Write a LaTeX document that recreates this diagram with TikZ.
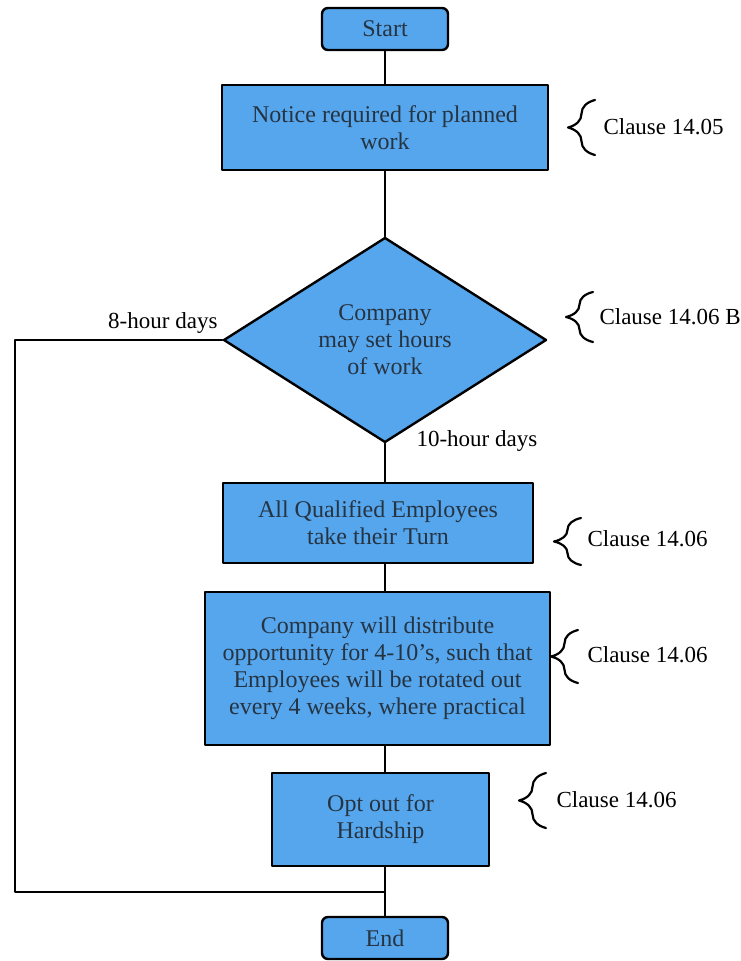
\documentclass[tikz,border=0pt]{standalone}
\usepackage{fontspec}
\setmainfont{Liberation Serif}
\usetikzlibrary{shapes.geometric,decorations.pathreplacing}
\definecolor{boxblue}{RGB}{86,166,238}
\definecolor{boxtext}{RGB}{38,52,66}
\begin{document}
\begin{tikzpicture}[x=1pt,y=-1pt,line join=round,line cap=round,line width=2.4pt]
			\tikzset{stepbox/.style={draw,fill=boxblue,text=boxtext,align=center,inner sep=0pt,font=\fontsize{24}{27}\selectfont},
				termbox/.style={stepbox,rounded corners=6pt,minimum width=126,minimum height=42},
				decision/.style={stepbox,diamond,minimum width=323,minimum height=205},
				clausebrace/.style={decorate,decoration={brace,amplitude=27pt},line width=2.2pt},
				clause/.style={anchor=west,font=\fontsize{23}{26}\selectfont},
				branch/.style={font=\fontsize{23}{26}\selectfont}}
			\useasboundingbox[fill=white] (0,0) rectangle (740,961);
			\node[termbox] (start) at (385,29) {Start};
			\node[stepbox,minimum width=326,minimum height=85] (notice) at (385,127.5) {Notice required for planned\\work};
			\node[decision] (hours) at (385,340) {Company\\may set hours\\of work};
			\node[stepbox,minimum width=310,minimum height=80] (turn) at (378,523) {All Qualified Employees\\take their Turn};
			\node[stepbox,minimum width=345,minimum height=153] (rotate) at (377.5,668.5) {Company will distribute\\opportunity for 4-10's, such that\\Employees will be rotated out\\every 4 weeks, where practical};
			\node[stepbox,minimum width=217,minimum height=93] (hardship) at (380.5,819.5) {Opt out for\\Hardship};
			\node[termbox] (end) at (385,938) {End};
			\coordinate (corner) at (15,892);
			\coordinate (join) at (385,892);
			\draw (start) -- (notice);
			\draw (notice) -- (hours);
			\draw (hours.south) -- (hours.south |- turn.north);
			\draw (turn.south -| start.south) -- (rotate.north -| start.south);
			\draw (rotate.south -| start.south) -- (hardship.north -| start.south);
			\draw (hardship.south -| start.south) -- (end.north);
			\draw (hours.west) -| (corner) -- (join);
			\node[branch,anchor=east] (eight) at (222,323) {8-hour days};
			\node[branch,anchor=west] (ten) at (412,441) {10-hour days};
			\draw[clausebrace] (595,155) -- (595,100);
			\node[clause] (c1) at (599,127) {Clause 14.05};
			\draw[clausebrace] (593,342) -- (593,292);
			\node[clause] (c2) at (595,317) {Clause 14.06 B};
			\draw[clausebrace] (581,565) -- (581,518);
			\node[clause] (c3) at (583,539) {Clause 14.06};
			\draw[clausebrace] (578,683) -- (578,630);
			\node[clause] (c4) at (583,655) {Clause 14.06};
			\draw[clausebrace] (546,828) -- (546,773);
			\node[clause] (c5) at (552,800) {Clause 14.06};
	\end{tikzpicture}
\end{document}
